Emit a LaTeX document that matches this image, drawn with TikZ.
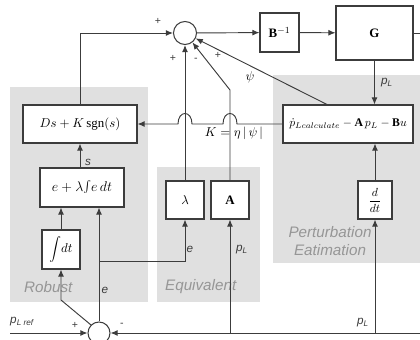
\documentclass[tikz,border=0pt]{standalone}
\usepackage{fontspec}
\setmainfont{Liberation Serif}
\setsansfont{Liberation Sans}
\usetikzlibrary{arrows.meta}
\definecolor{lncol}{RGB}{60,60,60}
\definecolor{reg}{RGB}{224,224,224}
\definecolor{lbl}{RGB}{150,150,150}
\begin{document}
\begin{tikzpicture}[x=0.03cm,y=-0.03cm,
  blk/.style={draw=lncol,line width=0.9pt,fill=white,inner sep=1pt,font=\fontsize{11}{13}\selectfont},
  sumc/.style={draw=lncol,line width=0.9pt,circle,fill=white,inner sep=0pt,minimum size=0.69cm},
  wire/.style={draw=lncol,line width=0.8pt},
  arr/.style={wire,-{Latex[length=6pt,width=5pt]}},
  region/.style={fill=reg,draw=none},
  rlbl/.style={text=lbl,font=\sffamily\itshape\fontsize{13}{15}\selectfont},
  sig/.style={font=\sffamily\fontsize{9}{10}\selectfont,text=lncol,inner sep=0pt},
  sl/.style={font=\sffamily\itshape\fontsize{10}{12}\selectfont,text=lncol,inner sep=0pt}]
\useasboundingbox (0,0) rectangle (420,340);
% regions
\fill[region] (10,87) rectangle (148,302);
\fill[region] (157,167) rectangle (260,302);
\fill[region] (273,75) rectangle (420,263);
\node[rlbl,anchor=west] (lrob) at (20,287) {Robust};
\node[rlbl,anchor=west] (leq) at (161,287) {Equivalent};
\node[rlbl,align=center] (lpert) at (330,241) {Perturbation\\Eatimation};
% blocks
\node[sumc] (s1) at (185,33) {};
\node[blk,minimum width=1.17cm,minimum height=1.17cm] (binv) at (279.5,32.5) {$\mathbf{B}^{-1}$};
\node[blk,minimum width=2.31cm,minimum height=1.62cm] (G) at (374.5,33) {$\mathbf{G}$};
\node[blk,minimum width=3.9cm,minimum height=1.14cm,font=\fontsize{10}{12}\selectfont] (pert) at (348,124) {$\dot p_{Lcalculate}-\mathbf{A}\,p_L-\mathbf{B}u$};
\node[blk,minimum width=3.42cm,minimum height=1.14cm] (ds) at (80,124) {$Ds+K\,\mathrm{sgn}(s)$};
\node[blk,minimum width=2.52cm,minimum height=1.17cm,font=\fontsize{12}{14}\selectfont] (el) at (82,187.5) {$e+\lambda\!\int\! e\,dt$};
\node[blk,minimum width=1.14cm,minimum height=1.17cm] (idt) at (61,249.5) {$\displaystyle\int\! dt$};
\node[blk,minimum size=1.14cm] (lam) at (185,200) {$\lambda$};
\node[blk,minimum size=1.14cm] (A) at (230,200) {$\mathbf{A}$};
\node[blk,minimum width=1.02cm,minimum height=1.14cm,font=\fontsize{10}{12}\selectfont] (ddt) at (375,200) {$\displaystyle\frac{d}{dt}$};
\node[sumc,minimum size=0.66cm] (s2) at (99,333) {};
% wires
\draw[arr] (s1) -- (binv);
\draw[arr] (binv) -- (G);
\coordinate (gout) at (420,33);
\draw[wire] (G.east) -- (gout);
\draw[arr] (G.south) -- (G.south |- pert.north);
\coordinate (psi) at (328,105);
\draw[arr] (psi) -- (s1);
\draw[arr] (pert.west) -- (237,124) .. controls (237,110) and (223,110) .. (223,124) -- (192,124) .. controls (192,110) and (178,110) .. (178,124) -- (ds.east);
\draw[arr] (ds.north) |- (s1.west);
\draw[arr] (lam.north) -- (s1.south);
\coordinate (abend) at (230,90);
\draw[arr] (A.north) -- (abend) -- (s1);
\draw[arr] (ds.south |- el.north) -- (ds.south);
\draw[arr] (idt.north) -- (idt.north |- el.south);
\draw[arr] (s2.north) -- (s2.north |- el.south);
\coordinate (eb) at (99,261);
\draw[arr] (eb) -| (lam.south);
\coordinate (ib) at (61,300);
\draw[arr] (s2.135) -- (ib) -- (idt.south);
\coordinate (pref) at (10,333);
\draw[arr] (pref) -- (s2.west);
\coordinate (fbr) at (420,333);
\draw[arr] (fbr) -- (s2.east);
\coordinate (a0) at (230,333);
\draw[arr] (a0) -- (A.south);
\coordinate (d0) at (375,333);
\draw[arr] (d0) -- (ddt.south);
\draw[arr] (ddt.north) -- (ddt.north |- pert.south);
% labels
\node[sig] (p1) at (158,21) {+};
\node[sig] (p2) at (173,58) {+};
\node[sig] (m1) at (196,60) {-};
\node[sig] (p3) at (218,55) {+};
\node[sig] (p4) at (75,325) {+};
\node[sig] (m2) at (122,325) {-};
\node[font=\fontsize{11}{13}\selectfont] (lpsi) at (250,77) {$\psi$};
\node[font=\fontsize{11}{13}\selectfont,inner sep=1pt] (lk) at (234,133) {$K=\eta\,|\,\psi\,|$};
\node[sl] (ls) at (88,162) {s};
\node[sl] (le1) at (190,249) {e};
\node[sl] (le2) at (105,290) {e};
\node[sl] (lpl1) at (387,83) {p\textsubscript{L}};
\node[sl] (lpl2) at (242,250) {p\textsubscript{L}};
\node[sl] (lpl3) at (363,323) {p\textsubscript{L}};
\node[sl,anchor=west] (lref) at (10,322) {p\textsubscript{L ref}};
\end{tikzpicture}
\end{document}
